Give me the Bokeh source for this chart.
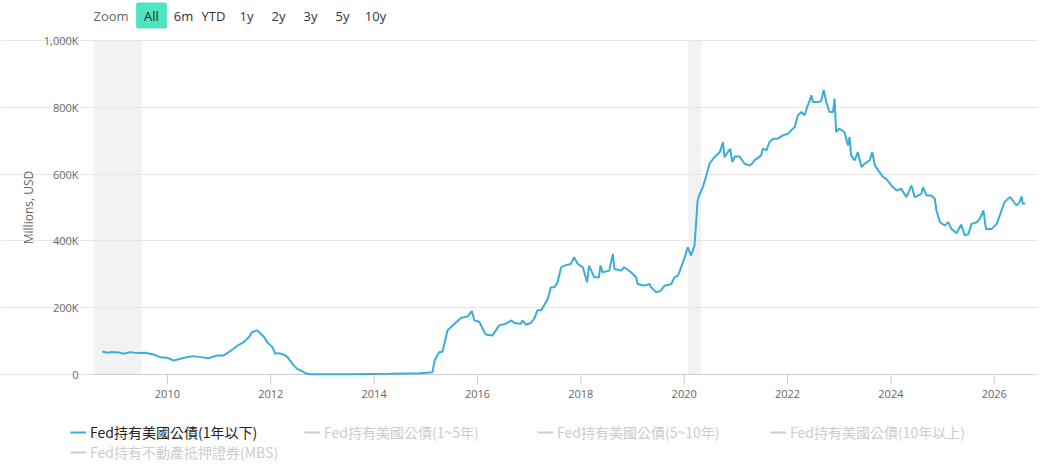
from math import pi

from bokeh.plotting import figure
from bokeh.models import FixedTicker, BoxAnnotation, Legend, LegendItem, Label, Grid
from bokeh.embed import file_html
from bokeh.resources import INLINE

# Fed holdings of US Treasuries maturing within 1 year (millions USD, shown in K)
dates = [
    2008.74, 2008.83, 2008.90, 2009.06, 2009.15, 2009.28, 2009.41, 2009.57, 2009.73, 2009.86,
    2010.00, 2010.12, 2010.25, 2010.38, 2010.51, 2010.64, 2010.80, 2010.96, 2011.09, 2011.16,
    2011.28, 2011.38, 2011.48, 2011.58, 2011.64, 2011.74, 2011.77, 2011.87, 2011.93, 2012.03,
    2012.09, 2012.16, 2012.29, 2012.35, 2012.42, 2012.51, 2012.58, 2012.67, 2012.77, 2013.50,
    2014.30, 2014.90, 2015.13, 2015.17, 2015.26, 2015.32, 2015.36, 2015.42, 2015.52, 2015.68,
    2015.81, 2015.89, 2015.94, 2016.04, 2016.10, 2016.16, 2016.29, 2016.42, 2016.55, 2016.66,
    2016.71, 2016.84, 2016.87, 2016.94, 2017.03, 2017.10, 2017.16, 2017.23, 2017.29, 2017.36,
    2017.42, 2017.49, 2017.55, 2017.62, 2017.68, 2017.81, 2017.87, 2017.94, 2018.04, 2018.12,
    2018.16, 2018.26, 2018.35, 2018.38, 2018.42, 2018.55, 2018.62, 2018.65, 2018.78, 2018.84,
    2018.97, 2019.07, 2019.10, 2019.23, 2019.33, 2019.36, 2019.46, 2019.55, 2019.62, 2019.75,
    2019.81, 2019.88, 2019.94, 2020.00, 2020.07, 2020.13, 2020.20, 2020.26, 2020.29, 2020.36,
    2020.42, 2020.49, 2020.56, 2020.62, 2020.69, 2020.75, 2020.78, 2020.89, 2020.93, 2020.98,
    2021.07, 2021.17, 2021.26, 2021.30, 2021.36, 2021.49, 2021.52, 2021.59, 2021.65, 2021.72,
    2021.81, 2021.91, 2022.01, 2022.07, 2022.14, 2022.20, 2022.27, 2022.33, 2022.38, 2022.43,
    2022.46, 2022.49, 2022.59, 2022.65, 2022.70, 2022.75, 2022.81, 2022.88, 2022.91, 2022.94,
    2023.00, 2023.10, 2023.17, 2023.20, 2023.23, 2023.30, 2023.36, 2023.43, 2023.49, 2023.59,
    2023.64, 2023.69, 2023.78, 2023.85, 2023.91, 2024.01, 2024.11, 2024.20, 2024.30, 2024.40,
    2024.46, 2024.59, 2024.62, 2024.69, 2024.78, 2024.85, 2024.88, 2024.95, 2025.04, 2025.11,
    2025.17, 2025.27, 2025.36, 2025.43, 2025.50, 2025.56, 2025.66, 2025.72, 2025.79, 2025.84,
    2025.95, 2026.05, 2026.14, 2026.20, 2026.30, 2026.36, 2026.43, 2026.49, 2026.53, 2026.55,
    2026.60,
]
holdings = [
    69, 65, 67, 66, 62, 67, 64, 65, 60, 52,
    50, 42, 47, 52, 55, 52, 49, 57, 57, 64,
    77, 89, 97, 112, 127, 132, 127, 112, 97, 82,
    62, 64, 57, 47, 32, 17, 12, 4, 1, 1,
    2, 4, 7, 42, 67, 67, 92, 132, 147, 169,
    174, 190, 162, 157, 137, 120, 117, 147, 152, 162,
    154, 152, 162, 149, 154, 167, 192, 192, 207, 227,
    261, 261, 276, 321, 326, 331, 351, 331, 321, 276,
    326, 291, 291, 326, 306, 311, 361, 316, 311, 321,
    306, 291, 271, 266, 271, 261, 246, 251, 266, 271,
    291, 296, 321, 346, 381, 356, 386, 521, 536, 561,
    591, 631, 646, 656, 666, 696, 651, 676, 636, 653,
    653, 631, 626, 629, 641, 656, 676, 671, 696, 706,
    706, 716, 721, 731, 741, 776, 786, 776, 801, 821,
    836, 816, 816, 819, 852, 816, 786, 786, 826, 726,
    736, 726, 686, 711, 656, 641, 666, 621, 631, 641,
    666, 626, 606, 591, 586, 566, 551, 556, 531, 566,
    531, 541, 561, 536, 536, 526, 491, 456, 446, 456,
    436, 423, 449, 416, 421, 451, 456, 466, 491, 436,
    436, 451, 491, 516, 531, 521, 506, 516, 533, 511,
    513,
]

series_names = [
    "Fed持有美國公債(1年以下)",
    "Fed持有美國公債(1~5年)",
    "Fed持有美國公債(5~10年)",
    "Fed持有美國公債(10年以上)",
    "Fed持有不動產抵押證券(MBS)",
]
recessions = [(2007.92, 2009.50), (2020.08, 2020.33)]

xticks = [2010, 2012, 2014, 2016, 2018, 2020, 2022, 2024, 2026]
xtick_labels = ["2010", "2012", "2014", "2016", "2018", "2020", "2022", "2024", "2026"]
yticks = [0, 200, 400, 600, 800, 1000]
ytick_labels = ["0", "200K", "400K", "600K", "800K", "1,000K"]
range_buttons = ["Zoom", "All", "6m", "YTD", "1y", "2y", "3y", "5y", "10y"]

FONT = "Open Sans"
W, H = 1038, 466
# plot area in pixels: left, right, top, bottom
PL, PR, PT, PB = 93, 1032, 40, 374
x_lo, x_hi = 2008.57, 2026.74
y_lo, y_hi = yticks[0], yticks[-1]

# whole canvas is the frame; the plot area is mapped through the ranges
sx = (x_hi - x_lo) / (PR - PL)
sy = (y_hi - y_lo) / (PB - PT)
p = figure(width=W, height=H, output_backend="svg", toolbar_location=None,
           x_axis_type=None, y_axis_type=None,
           x_range=(x_lo - PL * sx, x_hi + (W - PR) * sx),
           y_range=(y_lo - (H - PB) * sy, y_hi + PT * sy),
           min_border=0)
p.outline_line_color = None
p.background_fill_color = "white"
p.border_fill_color = "white"
p.grid.visible = False

for start, end in recessions:
    p.add_layout(BoxAnnotation(left=max(start, x_lo), right=end, bottom=y_lo, top=y_hi,
                               fill_color="#f2f2f2", fill_alpha=1, line_alpha=0, level="image"))

p.add_layout(Grid(dimension=1, ticker=FixedTicker(ticks=yticks), bounds=(x_lo, x_hi),
                  grid_line_color="#e6e6e6", grid_line_width=1))

# x axis: line, ticks and labels
p.segment(x0=[x_lo], y0=[y_lo], x1=[x_hi], y1=[y_lo], line_color="#cccccc", line_width=1)
p.ray(x=xticks, y=[y_lo] * len(xticks), length=10, length_units="screen", angle=-pi / 2,
      line_color="#cccccc", line_width=1)
p.text(x=xticks, y=[y_lo] * len(xticks), text=xtick_labels, y_offset=15,
       text_align="center", text_baseline="top", text_font_size="11px",
       text_color="#666666", text_font={"value": FONT})

# y axis labels and title
p.text(x=[x_lo] * len(yticks), y=yticks, text=ytick_labels, x_offset=-15,
       text_align="right", text_baseline="middle", text_font_size="11px",
       text_color="#666666", text_font={"value": FONT})
p.text(x=[x_lo], y=[(y_lo + y_hi) / 2], text=["Millions, USD"], x_offset=-65, angle=pi / 2,
       text_align="center", text_baseline="middle", text_font_size="12px",
       text_color="#666666", text_font={"value": FONT})

main = p.line(dates, holdings, line_color="#3aaed8", line_width=2)
# the other series are switched off in the chart: nothing plotted, greyed in the legend
hidden = [p.line([float("nan")], [float("nan")], line_color="#cccccc", line_width=2)
          for _ in series_names[1:]]


def make_legend(renderers, names, loc, color):
    return Legend(items=[LegendItem(label=n, renderers=[r]) for r, n in zip(renderers, names)],
                  orientation="horizontal", location=loc, padding=0, margin=0, spacing=0,
                  glyph_width=16, glyph_height=20, label_height=20, label_width=213,
                  label_standoff=4, border_line_color=None, background_fill_alpha=0,
                  label_text_font="Noto Sans CJK TC", label_text_font_size="14px",
                  label_text_color=color)


p.add_layout(make_legend([main], series_names[:1], (70, H - 442), "#222222"))
p.add_layout(make_legend(hidden[:3], series_names[1:4], (304, H - 442), "#cccccc"))
p.add_layout(make_legend(hidden[3:], series_names[4:], (70, H - 462), "#cccccc"))

# range selector row above the plot
button_x = [93, 151, 183, 213, 246, 278, 310, 342, 375]
for i, (txt, bx) in enumerate(zip(range_buttons, button_x)):
    kw = dict(x=bx, y=H - 15, x_units="screen", y_units="screen", text=txt,
              text_font=FONT, text_font_size="13px", text_baseline="middle")
    if i == 0:
        lab = Label(text_color="#666666", text_align="left", **kw)
    elif i == 1:
        lab = Label(text_color="#222222", text_align="center",
                    background_fill_color="#50e3c2",
                    padding=dict(left=8, right=8, top=4, bottom=4), border_radius=2, **kw)
    else:
        lab = Label(text_color="#333333", text_align="center", **kw)
    p.add_layout(lab)

open("out.html", "w").write(file_html(p, INLINE))
